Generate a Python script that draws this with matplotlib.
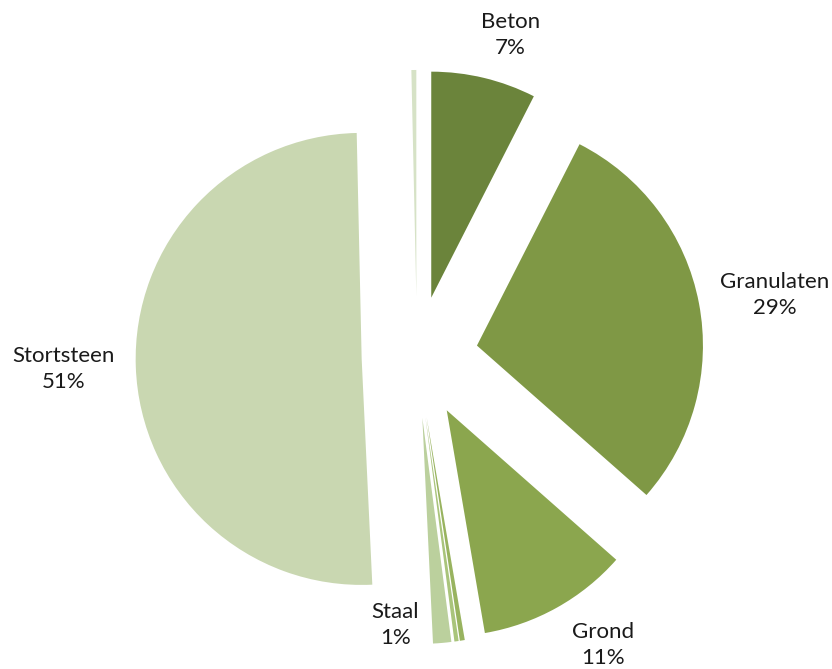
import numpy as np
import matplotlib.pyplot as plt

plt.rcParams['font.family'] = ['Lato', 'DejaVu Sans']

# slices clockwise from 12 o'clock
names = ['Beton', 'Granulaten', 'Grond', 'Overig 1', 'Overig 2', 'Staal', 'Stortsteen', 'Overig 3']
shares = [7.5, 29.0, 10.8, 0.35, 0.3, 1.3, 50.4, 0.35]
labels = ['Beton\n7%', 'Granulaten\n29%', 'Grond\n11%', '', '', 'Staal\n1%', 'Stortsteen\n51%', '']
colors = ['#6b843b', '#7f9845', '#8ba64e', '#98b35f', '#a9c47b', '#bbd09d', '#c9d7b1', '#d6e2c6']
explode = [0.27, 0.27, 0.27, 0.27, 0.27, 0.27, 0.245, 0.27]

# label placement: (distance in radii from exploded slice centre, angle shift in degrees)
label_pos = {'Beton': (1.214, -3.2), 'Granulaten': (1.335, -1.1), 'Grond': (1.248, 4.5),
             'Staal': (0.925, -12.5), 'Stortsteen': (1.32, 0)}

fig = plt.figure(figsize=(8.32, 6.69), dpi=100)
R = 226
lim = 1.4
w = 2 * lim * R
ax = fig.add_axes([(417 - w / 2) / 832, (669 - 357 - w / 2) / 669, w / 832, w / 669])

wedges, _ = ax.pie(shares, colors=colors, startangle=90, counterclock=False,
                   explode=explode, radius=1.0,
                   wedgeprops=dict(linewidth=0))

for wdg, name, lab in zip(wedges, names, labels):
    if not lab:
        continue
    d, shift = label_pos[name]
    mid = np.deg2rad((wdg.theta1 + wdg.theta2) / 2 + shift)
    cx, cy = wdg.center
    ax.text(cx + d * np.cos(mid), cy + d * np.sin(mid), lab, ha='center', va='center',
            fontsize=16, color='#1a1a1a', linespacing=1.4)

ax.set_xlim(-lim, lim)
ax.set_ylim(-lim, lim)
ax.axis('off')
fig.savefig('out.png', dpi=100)
